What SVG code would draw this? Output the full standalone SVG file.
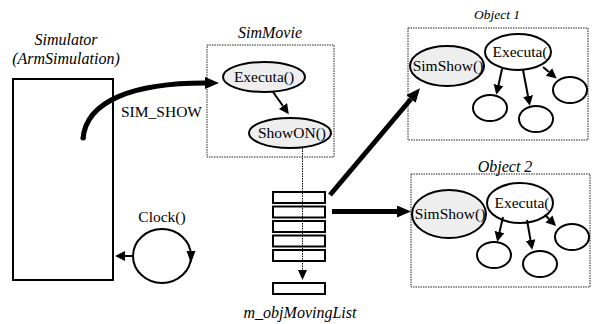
<svg xmlns="http://www.w3.org/2000/svg" width="592" height="324" viewBox="0 0 592 324">
  <style>
    .t { font-family: 'Liberation Serif', serif; font-size: 15.5px; }
    .ti { font-family: 'Liberation Serif', serif; font-size: 16px; font-style: italic; }
    .box { fill: #fff; stroke: #000; stroke-width: 2; }
    .frame { fill: none; stroke: #222; stroke-width: 1; stroke-dasharray: 1.5 1; }
    .gray { fill: #eeeeee; stroke: #000; stroke-width: 2; }
    .white { fill: #fff; stroke: #000; stroke-width: 2; }
    .thin { fill: none; stroke: #000; stroke-width: 2; }
  </style>
  <defs>
    <marker id="bigHead" markerUnits="userSpaceOnUse" markerWidth="16" markerHeight="14" refX="0" refY="6" orient="auto">
      <path d="M0,0 L14,6 L0,12 z" fill="#000"/>
    </marker>
    <marker id="smallHead" markerUnits="userSpaceOnUse" markerWidth="12" markerHeight="12" refX="0" refY="5" orient="auto">
      <path d="M0,0 L10,5 L0,10 z" fill="#000"/>
    </marker>
  </defs>

  <!-- Simulator -->
  <g id="simulator">
    <text class="ti" x="66" y="45" text-anchor="middle">Simulator</text>
    <text class="ti" x="66" y="64" text-anchor="middle">(ArmSimulation)</text>
    <rect class="box" x="13" y="79" width="100" height="201"/>
  </g>

  <!-- Clock loop -->
  <g id="clock">
    <text class="t" x="162" y="222" text-anchor="middle">Clock()</text>
    <ellipse cx="162" cy="256" rx="29" ry="27" fill="none" stroke="#000" stroke-width="2"/>
    <path d="M186.5,251 L195.5,251 L191,263 z" fill="#000"/>
  </g>

  <!-- SimMovie -->
  <g id="simmovie">
    <text class="ti" x="270" y="38" text-anchor="middle">SimMovie</text>
    <rect class="frame" x="207" y="45" width="127" height="112"/>
    <ellipse class="gray" cx="264" cy="77" rx="41" ry="15"/>
    <text class="t" x="264" y="82" text-anchor="middle">Executa()</text>
    <ellipse class="gray" cx="290" cy="133" rx="41" ry="15"/>
    <text class="t" x="292" y="138" text-anchor="middle">ShowON()</text>
  </g>

  <!-- m_objMovingList -->
  <g id="movinglist">
    <rect class="box" x="273" y="192" width="52" height="11"/>
    <rect class="box" x="273" y="206.5" width="52" height="11"/>
    <rect class="box" x="273" y="221" width="52" height="11"/>
    <rect class="box" x="273" y="235.5" width="52" height="11"/>
    <rect class="box" x="273" y="250" width="52" height="11"/>
    <rect class="box" x="273" y="283" width="52" height="11"/>
    <text class="ti" x="300" y="318" text-anchor="middle">m_objMovingList</text>
  </g>

  <!-- Object 1 -->
  <g id="object1">
    <text class="ti" x="497" y="19" text-anchor="middle" style="font-size:13.5px">Object 1</text>
    <rect class="frame" x="408" y="28" width="180" height="112"/>
    <ellipse class="gray" cx="447" cy="66" rx="37" ry="20"/>
    <text class="t" x="448" y="71" text-anchor="middle">SimShow()</text>
    <ellipse class="white" cx="518" cy="52" rx="33" ry="18"/>
    <text class="t" x="520" y="57" text-anchor="middle">Executa(</text>
    <ellipse class="white" cx="490" cy="108" rx="17" ry="13"/>
    <ellipse class="white" cx="536" cy="119" rx="17" ry="13"/>
    <ellipse class="white" cx="570" cy="90" rx="17" ry="13"/>
  </g>

  <!-- Object 2 -->
  <g id="object2">
    <rect class="frame" x="411" y="174" width="179" height="113"/>
    <text class="ti" x="505" y="172" text-anchor="middle">Object 2</text>
    <ellipse class="gray" cx="449" cy="214" rx="37" ry="24"/>
    <text class="t" x="450" y="219" text-anchor="middle">SimShow()</text>
    <ellipse class="white" cx="520" cy="203" rx="33" ry="20"/>
    <text class="t" x="522" y="208" text-anchor="middle">Executa(</text>
    <ellipse class="white" cx="494" cy="255" rx="17" ry="13"/>
    <ellipse class="white" cx="540" cy="264" rx="17" ry="13"/>
    <ellipse class="white" cx="572" cy="237" rx="17" ry="13"/>
  </g>

  <!-- Connectors -->
  <g id="connectors">
    <!-- SIM_SHOW message from Simulator to SimMovie -->
    <path d="M83,139 C86,100 135,83 205,83" fill="none" stroke="#000" stroke-width="5" marker-end="url(#bigHead)"/>
    <circle cx="83.1" cy="138" r="2.5" fill="#000"/>
    <text class="t" x="121" y="117">SIM_SHOW</text>
    <!-- Clock tick to Simulator -->
    <line x1="133" y1="256" x2="125" y2="256" stroke="#000" stroke-width="2" marker-end="url(#smallHead)"/>
    <!-- Executa -> ShowON -->
    <line x1="273" y1="92" x2="283" y2="106" stroke="#000" stroke-width="2" marker-end="url(#smallHead)"/>
    <!-- ShowON -> list (dotted) -->
    <line x1="302.5" y1="148" x2="302.5" y2="271" stroke="#000" stroke-width="1" stroke-dasharray="1.5 1"/>
    <path d="M298,270 L307,270 L302.5,280 z" fill="#000"/>
    <!-- list -> Object 1 -->
    <line x1="330" y1="195" x2="411" y2="99" stroke="#000" stroke-width="5" marker-end="url(#bigHead)"/>
    <!-- list -> Object 2 -->
    <line x1="332" y1="211.5" x2="397" y2="211.5" stroke="#000" stroke-width="5" marker-end="url(#bigHead)"/>
    <!-- Object 1 internal calls -->
    <line x1="502" y1="69" x2="498.5" y2="85" class="thin" marker-end="url(#smallHead)"/>
    <line x1="523" y1="70" x2="528" y2="96" class="thin" marker-end="url(#smallHead)"/>
    <line x1="543" y1="67" x2="549" y2="72" class="thin" marker-end="url(#smallHead)"/>
    <!-- Object 2 internal calls -->
    <line x1="503" y1="217" x2="499.5" y2="232" class="thin" marker-end="url(#smallHead)"/>
    <line x1="527" y1="220" x2="530.5" y2="240" class="thin" marker-end="url(#smallHead)"/>
    <line x1="545" y1="215" x2="549" y2="219" class="thin" marker-end="url(#smallHead)"/>
  </g>
</svg>
